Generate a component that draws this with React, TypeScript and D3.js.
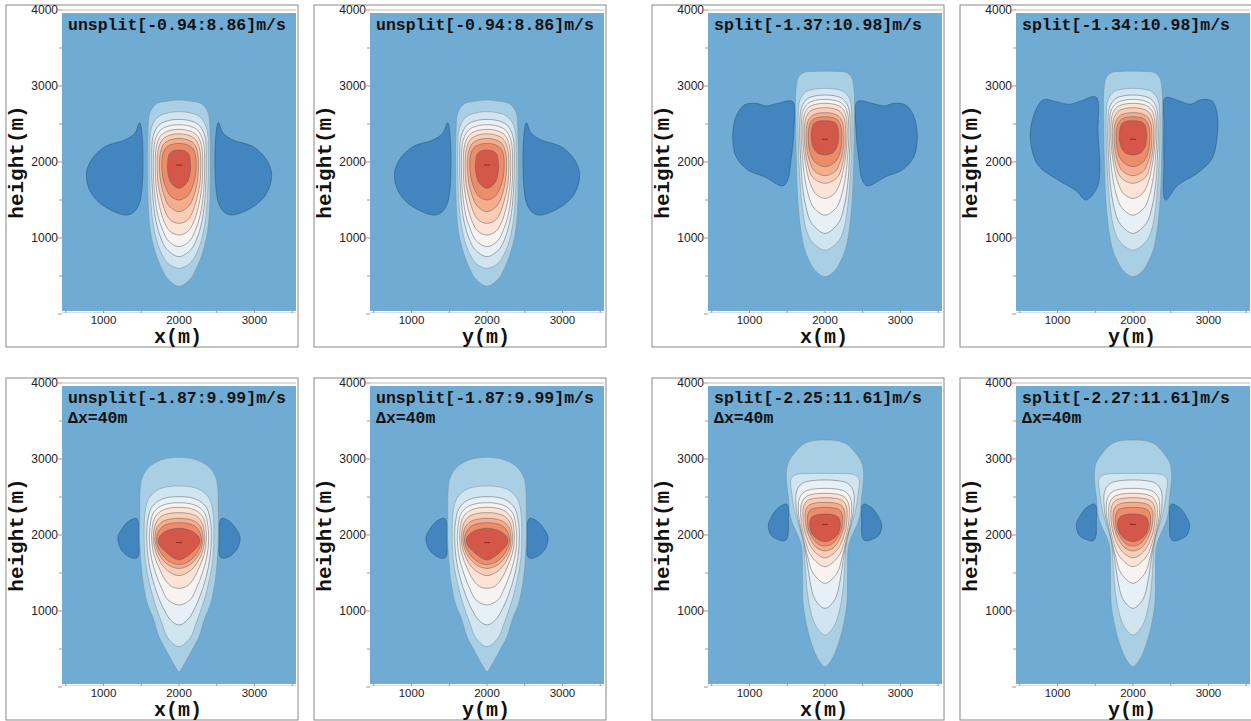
import React from "react";
import * as d3 from "d3";

// ---------- data ----------
const xTicks = [1000, 2000, 3000];
const yTicks = [1000, 2000, 3000, 4000];
const minorTicks = [0, 500, 1000, 1500, 2000, 2500, 3000, 3500, 4000];

const titles = [
  "unsplit[-0.94:8.86]m/s",
  "unsplit[-0.94:8.86]m/s",
  "split[-1.37:10.98]m/s",
  "split[-1.34:10.98]m/s",
  "unsplit[-1.87:9.99]m/s",
  "unsplit[-1.87:9.99]m/s",
  "split[-2.25:11.61]m/s",
  "split[-2.27:11.61]m/s",
];
const subtitles = ["", "", "", "", "Δx=40m", "Δx=40m", "Δx=40m", "Δx=40m"];
const xLabels = ["x(m)", "y(m)", "x(m)", "y(m)", "x(m)", "y(m)", "x(m)", "y(m)"];

// contour profiles: [height, half-width about x=2000], top to bottom
const unsplitCoarse = [
  [[2815, 0], [2800, 160], [2765, 300], [2650, 385], [2400, 410], [2000, 415], [1500, 410], [1100, 380], [800, 310], [600, 230], [450, 140], [365, 0]],
  [[2662, 0], [2645, 150], [2590, 280], [2450, 365], [2100, 388], [1600, 380], [1200, 345], [900, 275], [700, 175], [640, 110], [600, 0]],
  [[2560, 0], [2545, 140], [2490, 260], [2350, 340], [2000, 362], [1600, 350], [1250, 310], [1000, 240], [850, 160], [755, 0]],
  [[2490, 0], [2475, 130], [2420, 245], [2280, 318], [1950, 340], [1600, 325], [1300, 280], [1100, 215], [960, 140], [886, 0]],
  [[2430, 0], [2415, 120], [2360, 230], [2230, 295], [1950, 315], [1650, 300], [1400, 255], [1200, 190], [1090, 120], [1039, 0]],
  [[2370, 0], [2355, 115], [2300, 215], [2180, 272], [1950, 290], [1700, 275], [1480, 225], [1300, 160], [1225, 100], [1193, 0]],
  [[2310, 0], [2295, 105], [2240, 200], [2130, 245], [1950, 260], [1750, 245], [1550, 195], [1420, 130], [1346, 0]],
  [[2245, 0], [2230, 100], [2180, 180], [2080, 220], [1950, 228], [1800, 215], [1650, 170], [1550, 110], [1500, 0]],
  [[2158, 0], [2145, 80], [2100, 130], [2000, 150], [1900, 152], [1800, 135], [1720, 100], [1653, 0]],
];
const splitCoarse = [
  [[3195, 0], [3192, 150], [3180, 270], [3120, 350], [2950, 385], [2500, 388], [2000, 380], [1500, 360], [1100, 320], [850, 270], [680, 200], [560, 120], [492, 0]],
  [[2969, 0], [2960, 130], [2925, 250], [2820, 330], [2600, 355], [2200, 352], [1800, 335], [1400, 300], [1100, 245], [950, 170], [840, 0]],
  [[2881, 0], [2870, 130], [2830, 235], [2720, 310], [2450, 335], [2100, 325], [1700, 300], [1400, 250], [1200, 180], [1060, 0]],
  [[2824, 0], [2812, 125], [2770, 225], [2670, 292], [2420, 315], [2100, 302], [1800, 270], [1550, 215], [1400, 150], [1300, 0]],
  [[2772, 0], [2760, 120], [2720, 215], [2620, 275], [2400, 295], [2150, 282], [1900, 245], [1700, 190], [1580, 120], [1520, 0]],
  [[2715, 0], [2703, 110], [2665, 200], [2570, 255], [2380, 275], [2150, 262], [1950, 225], [1800, 165], [1720, 0]],
  [[2649, 0], [2638, 105], [2600, 185], [2510, 235], [2350, 250], [2150, 238], [2000, 200], [1880, 140], [1820, 0]],
  [[2596, 0], [2585, 100], [2550, 170], [2460, 212], [2330, 222], [2170, 210], [2050, 170], [1980, 110], [1939, 0]],
  [[2544, 0], [2535, 90], [2500, 150], [2400, 178], [2280, 178], [2180, 150], [2120, 100], [2093, 0]],
];
const unsplitFine = [
  [[3022, 0], [3010, 150], [2960, 300], [2870, 420], [2750, 490], [2600, 515], [2300, 520], [1900, 520], [1650, 505], [1400, 480], [1100, 420], [900, 340], [660, 265], [500, 180], [355, 100], [250, 40], [202, 0]],
  [[2645, 0], [2635, 150], [2590, 290], [2480, 400], [2300, 450], [2000, 462], [1700, 450], [1400, 400], [1100, 320], [850, 230], [650, 150], [531, 0]],
  [[2504, 0], [2495, 140], [2450, 270], [2350, 370], [2150, 420], [1950, 428], [1700, 410], [1450, 360], [1200, 280], [1000, 190], [880, 110], [816, 0]],
  [[2425, 0], [2415, 130], [2370, 260], [2280, 345], [2100, 385], [1930, 393], [1720, 370], [1500, 310], [1300, 230], [1150, 150], [1079, 0]],
  [[2364, 0], [2355, 125], [2310, 245], [2220, 325], [2060, 358], [1930, 362], [1750, 335], [1580, 270], [1420, 190], [1330, 110], [1298, 0]],
  [[2294, 0], [2285, 120], [2245, 235], [2160, 305], [2030, 335], [1930, 340], [1780, 310], [1640, 245], [1530, 150], [1465, 0]],
  [[2219, 0], [2210, 115], [2175, 220], [2100, 290], [2000, 315], [1920, 318], [1800, 290], [1680, 220], [1600, 130], [1560, 0]],
  [[2162, 0], [2153, 110], [2120, 205], [2050, 270], [1970, 295], [1900, 296], [1800, 260], [1700, 190], [1640, 110], [1610, 0]],
  [[2088, 0], [2075, 100], [2040, 190], [1990, 250], [1934, 275], [1870, 260], [1800, 200], [1730, 120], [1671, 0]],
];
const splitFine = [
  [[3250, 0], [3240, 160], [3200, 280], [3096, 390], [2943, 490], [2768, 512], [2450, 480], [2300, 470], [2150, 430], [2000, 360], [1850, 310], [1500, 298], [1100, 290], [800, 240], [575, 180], [400, 110], [300, 45], [267, 0]],
  [[2811, 0], [2808, 200], [2795, 380], [2740, 450], [2550, 440], [2300, 400], [2100, 340], [1900, 285], [1600, 262], [1300, 240], [1000, 190], [800, 120], [684, 0]],
  [[2724, 0], [2715, 170], [2680, 300], [2580, 375], [2350, 380], [2150, 345], [1950, 290], [1700, 245], [1400, 200], [1150, 130], [1035, 0]],
  [[2614, 0], [2605, 150], [2570, 270], [2480, 340], [2300, 352], [2100, 322], [1900, 275], [1700, 225], [1500, 160], [1364, 0]],
  [[2548, 0], [2540, 140], [2505, 250], [2420, 310], [2250, 322], [2080, 300], [1900, 255], [1720, 180], [1583, 0]],
  [[2491, 0], [2483, 130], [2450, 235], [2370, 285], [2220, 292], [2080, 275], [1920, 225], [1780, 140], [1700, 0]],
  [[2430, 0], [2422, 120], [2390, 215], [2320, 258], [2200, 262], [2080, 245], [1950, 195], [1840, 120], [1790, 0]],
  [[2364, 0], [2357, 110], [2330, 195], [2270, 228], [2170, 232], [2060, 215], [1960, 160], [1880, 90], [1855, 0]],
  [[2276, 0], [2268, 100], [2240, 170], [2180, 200], [2100, 200], [2020, 175], [1960, 120], [1925, 60], [1912, 0]],
];

// negative lobes [x, height]
const lobeUnsplitCoarse = [[2521, 2517], [2587, 2377], [2720, 2289], [2984, 2201], [3162, 2026], [3228, 1829], [3162, 1588], [2984, 1412], [2676, 1303], [2543, 1412], [2477, 1938]];
const lobeSplitCoarse = [[2428, 2794], [2627, 2772], [2782, 2737], [2914, 2772], [3069, 2750], [3179, 2597], [3223, 2334], [3179, 2071], [3024, 1895], [2804, 1807], [2560, 1685], [2494, 1764], [2450, 2027], [2415, 2378]];
const lobeSplitCoarseYRight = [[2424, 2842], [2600, 2810], [2760, 2760], [2900, 2820], [3050, 2800], [3120, 2600], [3110, 2300], [3050, 2050], [2850, 1850], [2596, 1697], [2430, 1500], [2410, 2000], [2410, 2500]];
const lobeSplitCoarseYLeft = [[808, 2816], [1000, 2790], [1150, 2760], [1300, 2800], [1510, 2855], [1536, 2400], [1536, 1697], [1377, 1500], [1250, 1620], [1006, 1763], [741, 1960], [640, 2300], [680, 2600]];
const lobeUnsplitFine = [[2566, 2219], [2676, 2175], [2764, 2066], [2808, 1978], [2786, 1846], [2698, 1737], [2587, 1693], [2543, 1715], [2530, 1978], [2535, 2153]];
const lobeSplitFine = [[2517, 2408], [2627, 2351], [2707, 2241], [2751, 2132], [2716, 2000], [2627, 1943], [2530, 1925], [2494, 1978], [2486, 2197], [2486, 2373]];

const coreMarks = [[2000, 1960], [2000, 1960], [2000, 2300], [2000, 2300], [2000, 1900], [2000, 1900], [2000, 2140], [2000, 2140]];

// ---------- style ----------
const levelColors = ["#a9cfe5", "#d1e5f0", "#e7f0f6", "#f6f3f1", "#fbe4d7", "#fbcdb5", "#f6ad8e", "#ee8b68", "#d4574a"];
const bgColor = "#6fabd2";
const lobeColor = "#4285bf";
const plotLefts = [62, 370, 708, 1016];
const rowTops = [10, 383];
const PW = 234;
const PH = 304;

const mirror = (pts: number[][]) => pts.map(([x, y]) => [4000 - x, y]);

const panels = [0, 1, 2, 3, 4, 5, 6, 7].map((i) => {
  const shapes = [unsplitCoarse, unsplitCoarse, splitCoarse, splitCoarse, unsplitFine, unsplitFine, splitFine, splitFine];
  const rights = [lobeUnsplitCoarse, lobeUnsplitCoarse, lobeSplitCoarse, lobeSplitCoarseYRight, lobeUnsplitFine, lobeUnsplitFine, lobeSplitFine, lobeSplitFine];
  const lefts = rights.map((r, k) => (k === 3 ? lobeSplitCoarseYLeft : mirror(r)));
  return {
    col: i % 4,
    row: Math.floor(i / 4),
    levels: shapes[i],
    lobes: [rights[i], lefts[i]],
    title: titles[i],
    sub: subtitles[i],
    xlabel: xLabels[i],
    mark: coreMarks[i],
  };
});

function Panel({ p }: { p: any }) {
  const left = plotLefts[p.col];
  const top = rowTops[p.row];
  const x = d3.scaleLinear().domain([450, 3550]).range([left, left + PW]);
  const y = d3.scaleLinear().domain([0, 4000]).range([top + PH, top]);
  const closed = d3
    .line<number[]>()
    .x((d) => x(d[0]))
    .y((d) => y(d[1]))
    .curve(d3.curveCatmullRomClosed.alpha(0.5));
  const profilePath = (prof: number[][]) => {
    const right = prof.map(([h, w]) => [2000 + w, h]);
    const leftSide = prof
      .filter(([, w]) => w > 0)
      .slice()
      .reverse()
      .map(([h, w]) => [2000 - w, h]);
    return closed(right.concat(leftSide)) || "";
  };
  const frameLeft = left - 56;
  const frameTop = top - 5;
  return (
    <g>
      <rect x={frameLeft} y={frameTop} width={PW + 58} height={342} fill="#fff" stroke="#888" strokeWidth={1} />
      <clipPath id={`clip${p.col}${p.row}`}>
        <rect x={left} y={y(3960)} width={PW} height={y(40) - y(3960)} />
      </clipPath>
      <g clipPath={`url(#clip${p.col}${p.row})`}>
        <rect x={left} y={y(3960)} width={PW} height={y(40) - y(3960)} fill={bgColor} />
        {p.lobes.map((lb: number[][], k: number) => (
          <path key={"l" + k} d={closed(lb) || ""} fill={lobeColor} stroke="#2b4e6e" strokeWidth={0.6} strokeOpacity={0.8} />
        ))}
        {p.levels.map((prof: number[][], k: number) => (
          <path key={k} d={profilePath(prof)} fill={levelColors[k]} stroke={k < 2 ? "#7f8e99" : "#606060"} strokeWidth={0.65} strokeOpacity={0.8} />
        ))}
        <line x1={x(p.mark[0]) - 3} x2={x(p.mark[0]) + 3} y1={y(p.mark[1])} y2={y(p.mark[1])} stroke="#8a2a22" strokeWidth={1} />
      </g>
      <line x1={left} x2={left + PW} y1={y(4000)} y2={y(4000)} stroke="#bbb" strokeWidth={1} />
      <line x1={left} x2={left + PW} y1={y(0) - 1.5} y2={y(0) - 1.5} stroke="#ddd" strokeWidth={1} />
      {minorTicks.map((v) => (
        <line key={"yt" + v} x1={left - (v % 1000 === 0 ? 4 : 3)} x2={left} y1={y(v)} y2={y(v)} stroke="#999" strokeWidth={1} />
      ))}
      {minorTicks
        .filter((v) => v >= 500 && v <= 3500)
        .map((v) => (
          <line key={"xt" + v} x1={x(v)} x2={x(v)} y1={y(0) - 1} y2={y(0) - 5} stroke="#999" strokeWidth={1} />
        ))}
      {yTicks.map((v) => (
        <text key={"yl" + v} x={left - 4} y={y(v)} dy="0.35em" textAnchor="end" fontFamily="Liberation Sans, Arial, sans-serif" fontSize={12} fill="#222">
          {v}
        </text>
      ))}
      {xTicks.map((v) => (
        <text key={"xl" + v} x={x(v)} y={y(0) + 10} textAnchor="middle" fontFamily="Liberation Sans, Arial, sans-serif" fontSize={11.5} fill="#222">
          {v}
        </text>
      ))}
      <text x={left + 6} y={top + 20} fontFamily="Liberation Mono, Courier New, monospace" fontWeight="bold" fontSize={16.5} fill="#111">
        {p.title}
      </text>
      {p.sub && (
        <text x={left + 6} y={top + 40} fontFamily="Liberation Mono, Courier New, monospace" fontWeight="bold" fontSize={16.5} fill="#111">
          {p.sub}
        </text>
      )}
      <text x={left + PW / 2 - 1} y={frameTop + 338} textAnchor="middle" fontFamily="Liberation Mono, Courier New, monospace" fontWeight="bold" fontSize={20} fill="#111">
        {p.xlabel}
      </text>
      <text
        transform={`translate(${left - 39},${y(2000)}) rotate(-90)`}
        textAnchor="middle"
        fontFamily="Liberation Mono, Courier New, monospace"
        fontWeight="bold"
        fontSize={21}
        fill="#111"
      >
        height(m)
      </text>
    </g>
  );
}

export default function App() {
  return (
    <svg width={1251} height={721} style={{ position: "absolute", left: 0, top: 0, background: "#fff" }}>
      {panels.map((p, i) => (
        <Panel key={i} p={p} />
      ))}
    </svg>
  );
}
